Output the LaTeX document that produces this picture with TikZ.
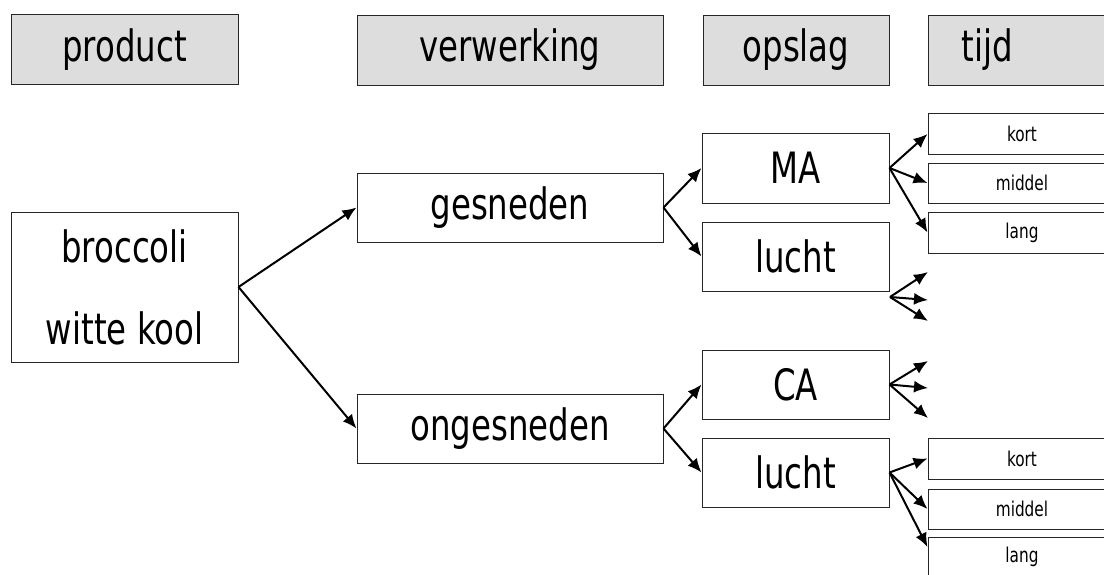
\documentclass[tikz,border=0pt]{standalone}
\usepackage{fontspec,graphicx}
\setmainfont{DejaVu Sans Condensed}
\usetikzlibrary{arrows.meta,positioning}
\definecolor{HeadGray}{HTML}{DDDDDD}
\newcommand\labfont{\fontsize{36}{43}\selectfont}
\newcommand\tijdfont{\fontsize{17}{20}\selectfont}
\newcommand\tall[1]{\scalebox{1}[1.2]{#1}}

\begin{document}
\begin{tikzpicture}[x=1pt,y=-1pt,>={Latex[length=14pt,width=12pt]},
  box/.style={draw=black!85,line width=1pt,inner sep=0pt,font=\labfont},
  head/.style={box,fill=HeadGray,minimum height=70pt},
  tbox/.style={draw=black!85,line width=1pt,inner sep=0pt,minimum width=188pt,font=\tijdfont},
  arr/.style={->,line width=2pt}]
\useasboundingbox (0,0) rectangle (1104,574);
\clip (0,0) rectangle (1104,574);
% kopjes
\node[head,minimum width=227pt](product)at(124.5,49.5){\tall{product}};
\node[head,minimum width=306pt](verwerking)at(510,50){\tall{verwerking}};
\node[head,minimum width=186pt](opslag)at(796,50){\tall{opslag}};
\node[head,minimum width=188pt,label={[xshift=-35pt,font=\labfont]center:\tall{tijd}}](tijd)at(1022.5,50){};
% boom
\node[box,minimum width=227pt,minimum height=150pt,align=center,font=\fontsize{36}{82}\selectfont](broccoli)at(124.5,287){\tall{broccoli}\\\tall{witte kool}};
\node[box,minimum width=306pt,minimum height=69pt](gesneden)at(510,207.5){\tall{gesneden}};
\node[box,minimum width=306pt,minimum height=69pt](ongesneden)at(510,428.5){\tall{ongesneden}};
\node[box,minimum width=187pt,minimum height=70pt](MA)at(795.5,168){\tall{MA}};
\node[box,minimum width=187pt,minimum height=69pt](luchtA)at(795.5,256.5){\tall{lucht}};
\node[box,minimum width=187pt,minimum height=69pt](CA)at(795.5,384.5){\tall{CA}};
\node[box,minimum width=187pt,minimum height=69pt](luchtB)at(795.5,472.5){\tall{lucht}};
\foreach \y/\h/\t/\n in {134/41/kort/kortA,183/40/middel/middelA,232.5/41/lang/langA,
  458.5/41/kort/kortB,509/40/middel/middelB,557/40/lang/langB}{
\node[tbox,minimum height=\h pt](\n)at(1022,\y){\tall{\t}};}
% losse pijlen
\coordinate(luchtAend)at(890,297);
\coordinate(la1)at(928,272);\coordinate(la2)at(928,300);\coordinate(la3)at(928,321);
\coordinate(ca1)at(928,361);\coordinate(ca2)at(928,388);\coordinate(ca3)at(928,418);
\draw[arr](broccoli.east)--(gesneden.west);
\draw[arr](broccoli.east)--(ongesneden.west);
\foreach \s/\t in {gesneden/MA,gesneden/luchtA,ongesneden/CA,ongesneden/luchtB,
  MA/kortA,MA/middelA,MA/langA,luchtB/kortB,luchtB/middelB}{
\draw[arr](\s.east)--(\t.west);}
\draw[arr](luchtB.east)--([yshift=10pt]langB.west);
\foreach \t in {la1,la2,la3}{\draw[arr](luchtAend)--(\t);}
\foreach \t in {ca1,ca2,ca3}{\draw[arr](CA.east)--(\t);}
\end{tikzpicture}
\end{document}
